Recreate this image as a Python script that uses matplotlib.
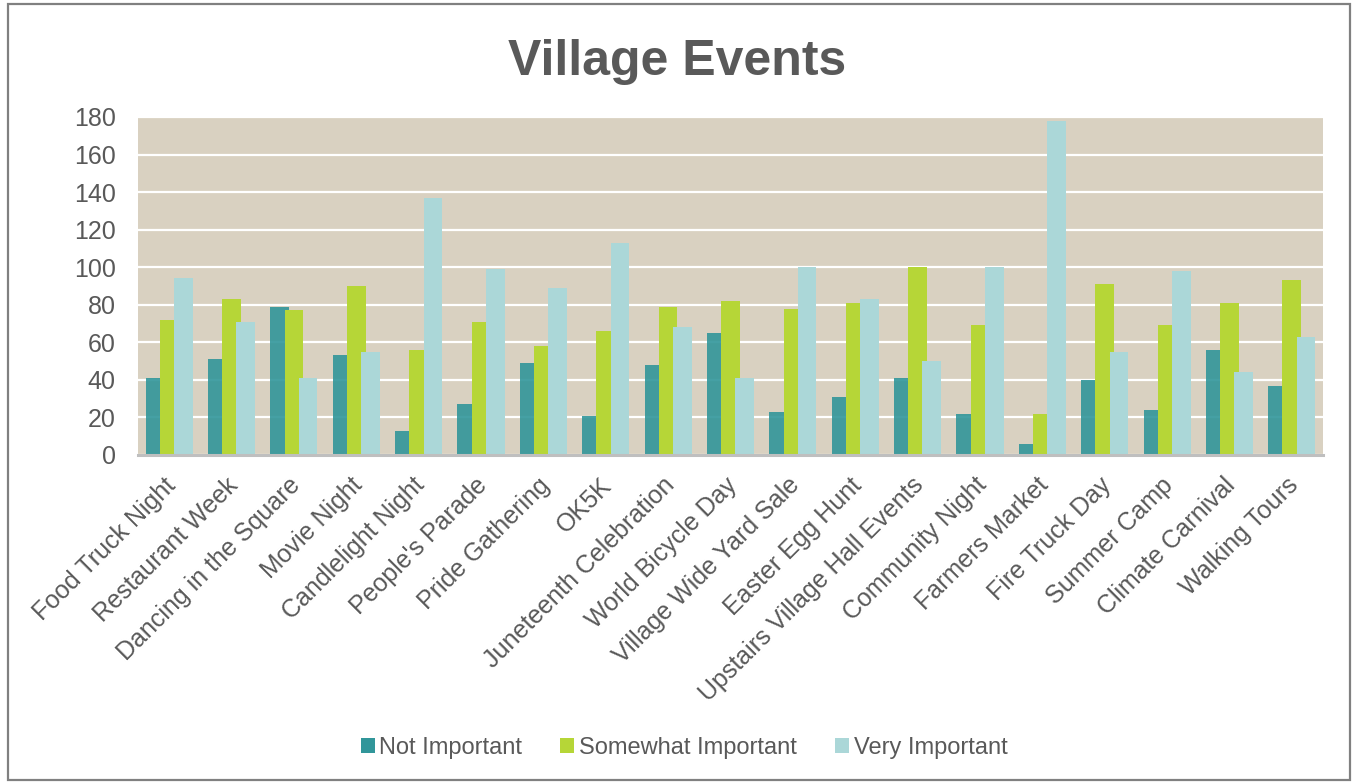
#!/usr/bin/env python3
# Village Events: grouped bar chart of how important each event is to residents.
# deps: numpy, matplotlib

import numpy as np
import matplotlib
matplotlib.use("Agg")  # headless
import matplotlib.pyplot as plt
from matplotlib.patches import Rectangle
from matplotlib.transforms import ScaledTranslation

events = [
    "Food Truck Night", "Restaurant Week", "Dancing in the Square", "Movie Night",
    "Candlelight Night", "People's Parade", "Pride Gathering", "OK5K",
    "Juneteenth Celebration", "World Bicycle Day", "Village Wide Yard Sale",
    "Easter Egg Hunt", "Upstairs Village Hall Events", "Community Night",
    "Farmers Market", "Fire Truck Day", "Summer Camp", "Climate Carnival",
    "Walking Tours",
]
not_important = [41, 51, 79, 53, 13, 27, 49, 21, 48, 65, 23, 31, 41, 22, 6, 40, 24, 56, 37]
somewhat_important = [72, 83, 77, 90, 56, 71, 58, 66, 79, 82, 78, 81, 100, 69, 22, 91, 69, 81, 93]
very_important = [94, 71, 41, 55, 137, 99, 89, 113, 68, 41, 100, 83, 50, 100, 178, 55, 98, 44, 63]
series_names = ["Not Important", "Somewhat Important", "Very Important"]
y_ticks = [0, 20, 40, 60, 80, 100, 120, 140, 160, 180]

TEXT = "#595959"
plt.rcParams["font.family"] = ["Liberation Sans", "DejaVu Sans"]

fig = plt.figure(figsize=(13.54, 7.83), dpi=100)
ax = fig.add_axes([138 / 1354, 1 - 455 / 783, (1323 - 138) / 1354, (455 - 117) / 783])
ax.set_facecolor("#D9D1C1")

x = np.arange(len(events))
width = 0.30
step = 0.228
series = [not_important, somewhat_important, very_important]
colors = ["#31969A", "#B6D637", "#ABD7D8"]
alphas = [0.9, 1.0, 1.0]
for i, (vals, col, a, name) in enumerate(zip(series, colors, alphas, series_names)):
    ax.bar(x + (i - 1) * step, vals, width=width, color=col, alpha=a,
           label=name, zorder=2 + i, linewidth=0)

ax.set_xlim(-0.5, len(events) - 0.5)
ax.set_ylim(0, 180)
ax.set_yticks(y_ticks)
ax.yaxis.grid(True, color="white", linewidth=1.6, zorder=1)
ax.set_axisbelow(True)
for side in ["left", "right", "top"]:
    ax.spines[side].set_visible(False)
ax.spines["bottom"].set_color("#BFBFBF")
ax.spines["bottom"].set_linewidth(2.2)
ax.spines["bottom"].set_zorder(10)

ax.tick_params(axis="y", length=0, pad=16, labelsize=18, labelcolor=TEXT)
ax.tick_params(axis="x", length=0, pad=8, labelsize=18, labelcolor=TEXT)
ax.set_xticks(x)
ax.set_xticklabels(events, rotation=45, ha="right", va="top", rotation_mode="anchor")
# nudge the slanted labels down-left a little, like the original
shift = ScaledTranslation(-6 / 100, -7 / 100, fig.dpi_scale_trans)
for lab in ax.get_xticklabels():
    lab.set_transform(lab.get_transform() + shift)

fig.text(0.5, 1 - 62 / 783, "Village Events", ha="center", va="center",
         fontsize=36, fontweight="bold", color=TEXT)

leg = fig.legend(loc="center", bbox_to_anchor=(684 / 1354, 1 - 748 / 783), ncol=3,
                 frameon=False, fontsize=17, handlelength=0.6, handleheight=0.6,
                 handletextpad=0.2, columnspacing=1.6)
for t in leg.get_texts():
    t.set_color(TEXT)
for h in leg.legend_handles:
    h.set_alpha(1)

# outer chart border
fig.patches.append(Rectangle((8 / 1354, 3 / 783), (1350 - 8) / 1354, (779 - 3) / 783,
                             transform=fig.transFigure, fill=False,
                             edgecolor="#808080", linewidth=1.6))

fig.savefig("out.png", dpi=100)
